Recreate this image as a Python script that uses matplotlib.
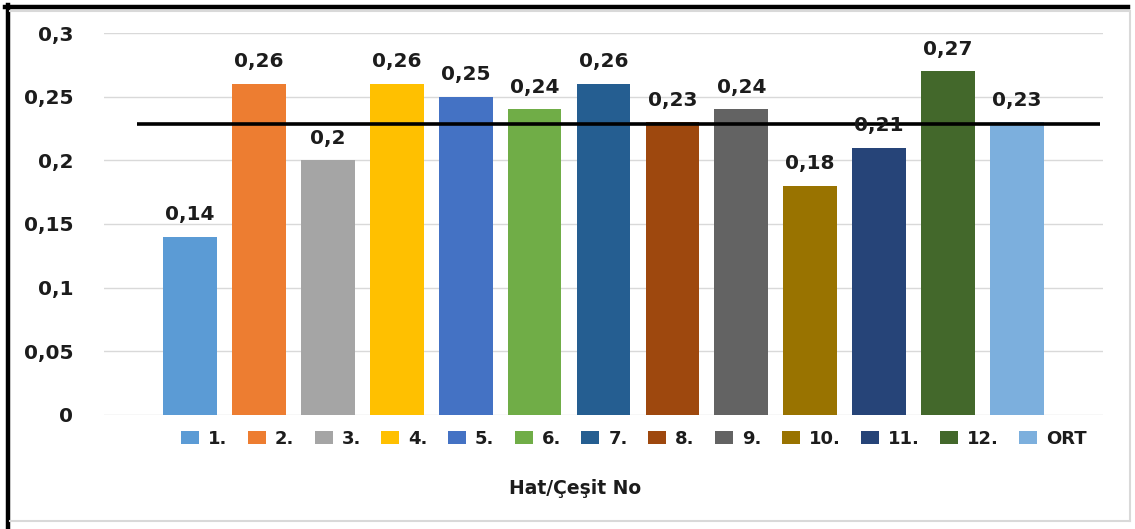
import matplotlib
matplotlib.use("Agg")
import matplotlib.pyplot as plt
from matplotlib.patches import Patch
from matplotlib.lines import Line2D

categories = ["1.", "2.", "3.", "4.", "5.", "6.", "7.", "8.", "9.", "10.", "11.", "12.", "ORT"]
values = [0.14, 0.26, 0.20, 0.26, 0.25, 0.24, 0.26, 0.23, 0.24, 0.18, 0.21, 0.27, 0.23]
colors = ["#5B9BD5", "#ED7D31", "#A5A5A5", "#FFC000", "#4472C4", "#70AD47",
          "#255E91", "#9E480E", "#636363", "#997300", "#264478", "#43682B", "#7CAFDD"]
y_ticks = [0, 0.05, 0.1, 0.15, 0.2, 0.25, 0.3]
x_title = "Hat/Çeşit No"

txt_color = "#1C1C1C"
plt.rcParams["font.family"] = ["DejaVu Sans"]
fig = plt.figure(figsize=(11.35, 5.29), dpi=100)
ax = fig.add_axes([104 / 1135, 1 - 415 / 529, 999 / 1135, 382 / 529])

x = list(range(len(values)))
ax.bar(x, values, width=0.78, color=colors, zorder=2)

# mean of the twelve lines drawn across the plot
mean_val = sum(values[:12]) / 12
ax.plot([-0.77, 13.2], [mean_val, mean_val], color="black", lw=2.6, zorder=3,
        solid_capstyle="butt")

for xi, v in zip(x, values):
    ax.annotate(f"{v:g}".replace(".", ","), (xi, v), xytext=(0, 9),
                textcoords="offset points", ha="center", va="bottom",
                fontsize=14.5, fontweight="bold", color=txt_color, zorder=4)

ax.set_xlim(-1.25, 13.25)
ax.set_ylim(0, 0.3)
ax.set_yticks(y_ticks)
ax.set_yticklabels([f"{t:g}".replace(".", ",") for t in y_ticks],
                   fontsize=14.5, fontweight="bold", color=txt_color)
ax.set_xticks([])
ax.tick_params(axis="y", length=0, pad=22)
ax.grid(axis="y", color="#D9D9D9", lw=1, zorder=0)
for s in ax.spines.values():
    s.set_visible(False)

handles = [Patch(facecolor=c, edgecolor="none") for c in colors]
leg = fig.legend(handles, categories, ncol=13, loc="center",
                 bbox_to_anchor=(634 / 1135, 1 - 439 / 529), frameon=False,
                 prop={"weight": "bold", "size": 13}, handlelength=1.0,
                 handleheight=0.7, handletextpad=0.5, columnspacing=1.12)
for t in leg.get_texts():
    t.set_color(txt_color)

fig.text(575 / 1135, 1 - 489 / 529, x_title, ha="center", va="center",
         fontsize=13.5, fontweight="bold", color=txt_color)

# outer frame: black top/left, light grey inner and bottom/right edges
fig.add_artist(Line2D([5 / 1135, 1128 / 1135], [1 - 7 / 529, 1 - 7 / 529],
                      transform=fig.transFigure, color="black", lw=3.2))
fig.add_artist(Line2D([7.5 / 1135, 7.5 / 1135], [1 - 5 / 529, 0],
                      transform=fig.transFigure, color="black", lw=3.2))
fig.add_artist(Line2D([10 / 1135, 1129 / 1135], [1 - 11 / 529, 1 - 11 / 529],
                      transform=fig.transFigure, color="#D9D9D9", lw=1.5))
fig.add_artist(Line2D([10 / 1135, 1130 / 1135], [1 - 521 / 529, 1 - 521 / 529],
                      transform=fig.transFigure, color="#D9D9D9", lw=1.5))
fig.add_artist(Line2D([1130 / 1135, 1130 / 1135], [1 - 11 / 529, 1 - 521 / 529],
                      transform=fig.transFigure, color="#D9D9D9", lw=1.5))

fig.savefig("out.png", dpi=100)
